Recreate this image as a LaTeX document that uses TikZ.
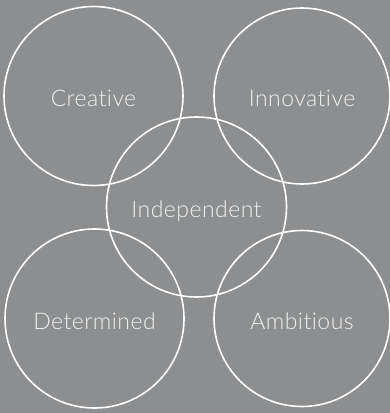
\documentclass[tikz,border=0pt]{standalone}
\usepackage{fontspec}
\newfontfamily\traitfont{Lato Light}[Ligatures={NoCommon}, LetterSpace=2]
\definecolor{panelgray}{RGB}{141,142,143}
\definecolor{traittext}{RGB}{240,240,240}
\tikzset{x=1pt, y=-1pt}
\tikzset{
    trait/.style={circle, draw=white, line width=1.6pt, inner sep=0pt,
    	text height=21pt, text depth=0pt,
    	text=traittext, font=\traitfont\fontsize{23}{26}\selectfont}
}

\begin{document}
\begin{tikzpicture}
  \fill[panelgray] (0,0) rectangle (390,413);
  \useasboundingbox (0,0) rectangle (390,413);

  \node (indep) [trait, minimum size=180pt] at (196.5,207) {Independent};
  \node (creative) [trait, minimum size=179pt] at (93.5,96) {Creative};
  \node (innov) [trait, minimum size=176pt] at (302,96) {Innovative};
  \node (determ) [trait, minimum size=179pt] at (94.5,318.5) {Determined};
  \node (ambit) [trait, minimum size=176pt] at (302,318.5) {Ambitious};
\end{tikzpicture}
\end{document}
